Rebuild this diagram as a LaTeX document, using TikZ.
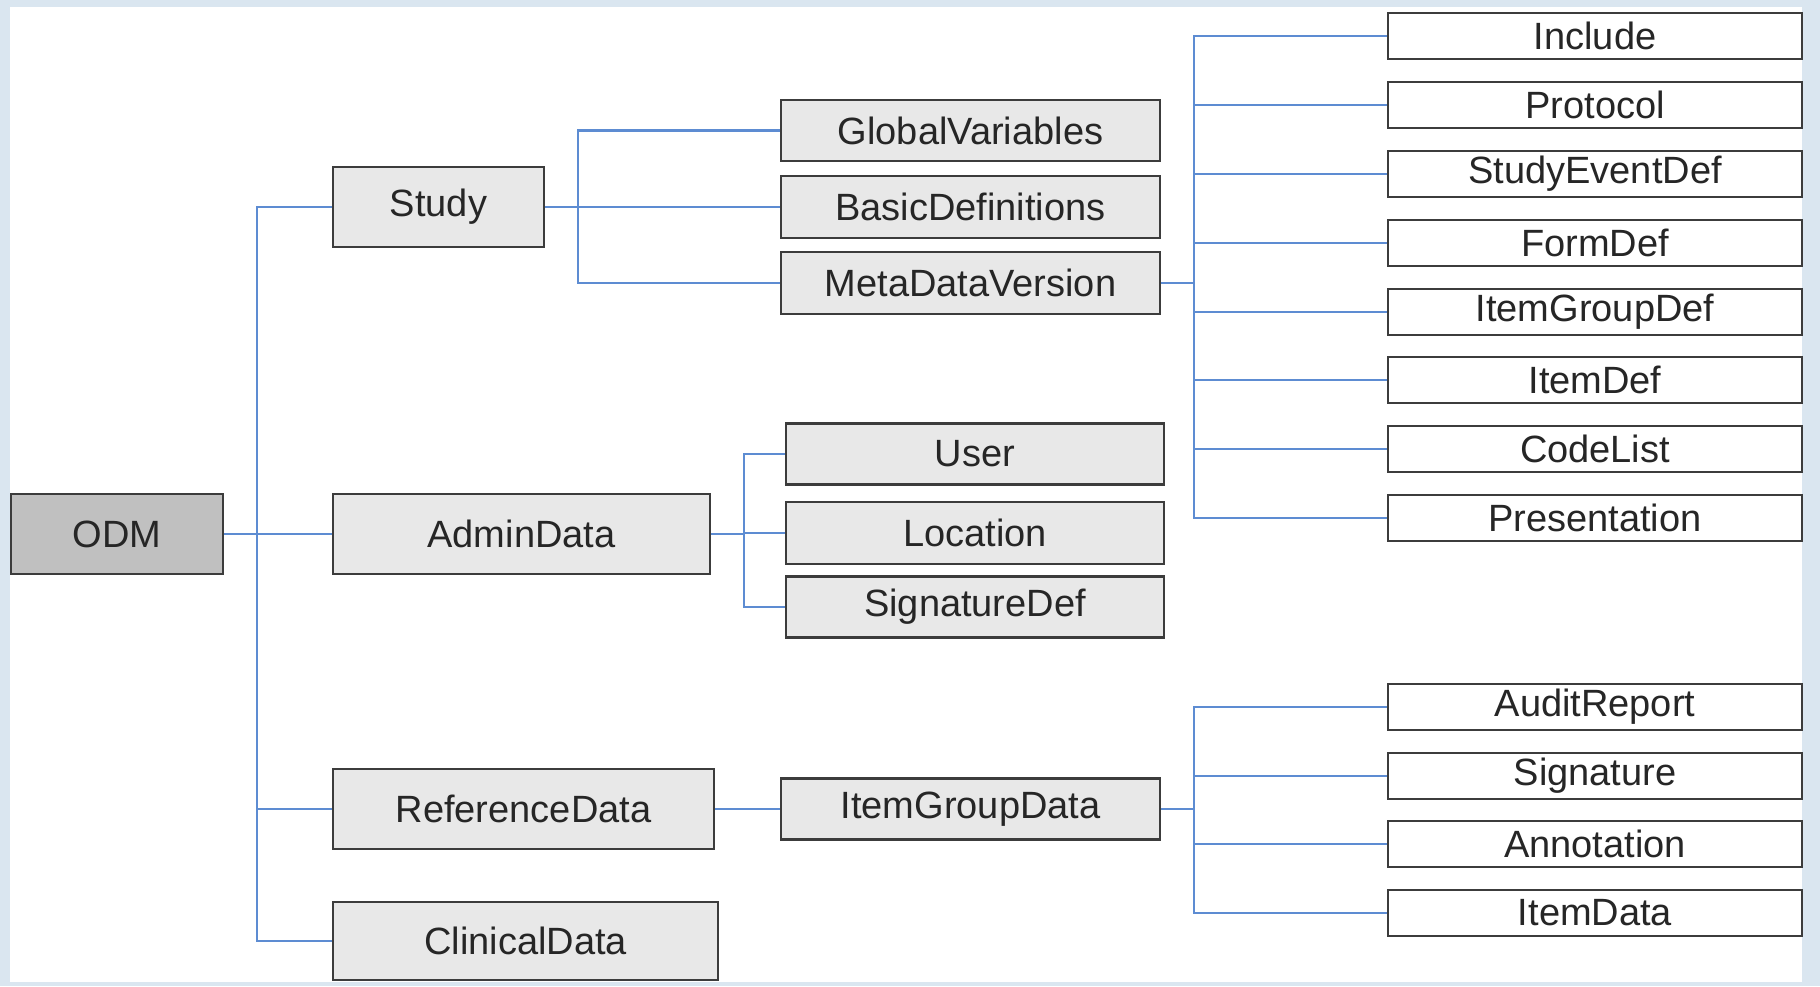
\documentclass[tikz,border=0pt]{standalone}
\usepackage{fontspec}
\setmainfont{Liberation Sans}
\definecolor{bgframe}{HTML}{DAE6F0}
\definecolor{conncol}{HTML}{5D8CD2}
\definecolor{lfill}{HTML}{E8E8E8}
\definecolor{odmfill}{HTML}{C0C0C0}
\definecolor{bordercol}{HTML}{3C3C3C}
\tikzset{
  lbox/.style={draw=bordercol, line width=1.1pt, fill=lfill, inner sep=0pt, font=\fontsize{19}{22}\selectfont, text=black!85},
  rbox/.style={draw=bordercol, line width=1.1pt, fill=white, inner sep=0pt, minimum width=207pt, minimum height=23pt, font=\fontsize{19}{22}\selectfont, text=black!85},
  conn/.style={draw=conncol, line width=1.2pt},
}
\begin{document}
\begin{tikzpicture}[x=0.5pt,y=-0.5pt]
\useasboundingbox (0,0) rectangle (1820,986);
\fill[bgframe] (0,0) rectangle (1820,986);
\fill[white] (10,7) rectangle (1802,982);

% level 0/1
\node[lbox, fill=odmfill, minimum width=106pt, minimum height=40pt] (ODM) at (117,534) {ODM};
\node[lbox, minimum width=105.5pt, minimum height=40pt] (Study) at (438.5,207) {Study};
\node[lbox, minimum width=188.5pt, minimum height=40pt] (AdminData) at (521.5,534) {AdminData};
\node[lbox, minimum width=190.5pt, minimum height=40pt] (ReferenceData) at (523.5,809) {ReferenceData};
\node[lbox, minimum width=192.5pt, minimum height=39pt] (ClinicalData) at (525.5,941) {ClinicalData};

% level 2
\node[lbox, minimum width=189.5pt, minimum height=30.5pt] (GlobalVariables) at (970.5,130.5) {GlobalVariables};
\node[lbox, minimum width=189.5pt, minimum height=31pt] (BasicDefinitions) at (970.5,207) {BasicDefinitions};
\node[lbox, minimum width=189.5pt, minimum height=31pt] (MetaDataVersion) at (970.5,283) {MetaDataVersion};
\node[lbox, minimum width=189pt, minimum height=30.5pt] (User) at (975,454) {User};
\node[lbox, minimum width=189pt, minimum height=31pt] (Location) at (975,533) {Location};
\node[lbox, minimum width=189pt, minimum height=30.5pt] (SignatureDef) at (975,607) {SignatureDef};
\node[lbox, minimum width=189.5pt, minimum height=30.5pt] (ItemGroupData) at (970.5,809) {ItemGroupData};

% level 3
\node[rbox] (Include) at (1595,36) {Include};
\node[rbox] (Protocol) at (1595,105) {Protocol};
\node[rbox] (StudyEventDef) at (1595,174) {StudyEventDef};
\node[rbox] (FormDef) at (1595,243) {FormDef};
\node[rbox] (ItemGroupDef) at (1595,312) {ItemGroupDef};
\node[rbox] (ItemDef) at (1595,380) {ItemDef};
\node[rbox] (CodeList) at (1595,449) {CodeList};
\node[rbox] (Presentation) at (1595,518) {Presentation};
\node[rbox] (AuditReport) at (1595,707) {AuditReport};
\node[rbox] (Signature) at (1595,776) {Signature};
\node[rbox] (Annotation) at (1595,844) {Annotation};
\node[rbox] (ItemData) at (1595,913) {ItemData};

% trunk coordinates
\coordinate (t0) at (257,534);
\coordinate (t1) at (578,207);
\coordinate (t2) at (1194,283);
\coordinate (t3) at (744,534);
\coordinate (t4) at (1194,809);

% ODM
\draw[conn] (ODM.east) -- (AdminData.west);
\draw[conn] (Study.west) -| (t0) |- (ClinicalData.west);
\draw[conn] (t0 |- ReferenceData.west) -- (ReferenceData.west);

% Study
\draw[conn] (Study.east) -- (BasicDefinitions.west);
\draw[conn] (GlobalVariables.west) -| (t1) |- (MetaDataVersion.west);

% MetaDataVersion
\draw[conn] (MetaDataVersion.east) -- (t2);
\draw[conn] (Include.west) -| (t2) |- (Presentation.west);
\foreach \n in {Protocol,StudyEventDef,FormDef,ItemGroupDef,ItemDef,CodeList}
  \draw[conn] (t2 |- \n.west) -- (\n.west);

% AdminData
\draw[conn] (AdminData.east) -- (t3);
\draw[conn] (User.west) -| (t3) |- (SignatureDef.west);
\draw[conn] (t3 |- Location.west) -- (Location.west);

% ReferenceData
\draw[conn] (ReferenceData.east) -- (ItemGroupData.west);
\draw[conn] (ItemGroupData.east) -- (t4);
\draw[conn] (AuditReport.west) -| (t4) |- (ItemData.west);
\foreach \n in {Signature,Annotation}
  \draw[conn] (t4 |- \n.west) -- (\n.west);
\end{tikzpicture}
\end{document}
